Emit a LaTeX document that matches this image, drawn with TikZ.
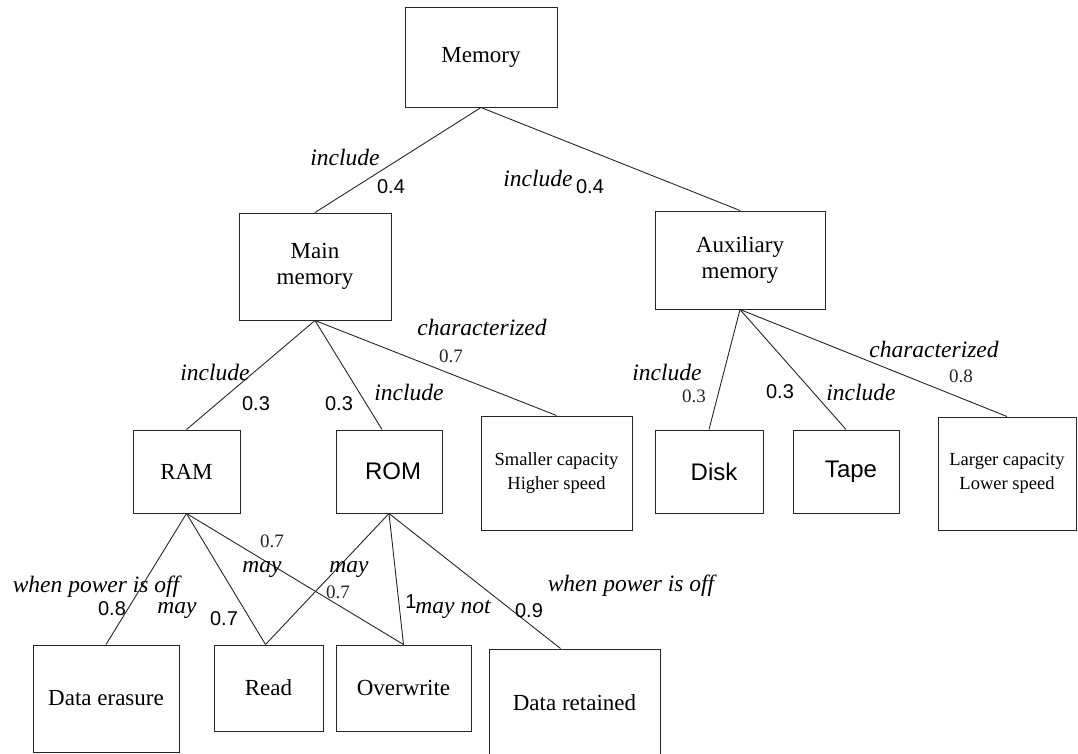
\documentclass[tikz,border=0pt]{standalone}
\usepackage{fontspec}
\setmainfont{Liberation Serif}
\setsansfont{Liberation Sans}
\begin{document}
\begin{tikzpicture}[x=1pt,y=-1pt,
  box/.style={draw=black!85, line width=1pt, inner sep=0pt, align=center,
    font=\fontsize{23}{26.5}\selectfont},
  smallbox/.style={box, font=\fontsize{18.5}{23.5}\selectfont},
  sansbox/.style={box, font=\sffamily\fontsize{24}{26}\selectfont},
  link/.style={draw=black!85, line width=0.9pt},
  rel/.style={inner sep=0pt, anchor=base, font=\itshape\fontsize{23.5}{26}\selectfont},
  wgt/.style={inner sep=0pt, anchor=base, font=\sffamily\fontsize{20}{22}\selectfont},
  sw/.style={inner sep=0pt, anchor=base, text=black!85, font=\fontsize{19}{22}\selectfont}]
\useasboundingbox (0,0) rectangle (1078,753);

% concept boxes
\node[box, minimum width=152, minimum height=100] (mem) at (481,57) {Memory};
\node[box, minimum width=152, minimum height=107] (main) at (315,266.5) {Main\\memory};
\node[box, minimum width=170, minimum height=98] (aux) at (740,260) {Auxiliary\\memory};
\node[box, minimum width=107, minimum height=83] (ram) at (186.5,471.5) {RAM};
\node[sansbox, minimum width=106, minimum height=83] (rom) at (389,471.5) {\hspace*{8pt}ROM};
\node[smallbox, minimum width=151, minimum height=114] (small) at (556.5,473) {Smaller capacity\\Higher speed};
\node[sansbox, minimum width=108, minimum height=83] (disk) at (709,471.5) {\hspace*{10pt}Disk};
\node[sansbox, minimum width=106, minimum height=83] (tape) at (846,471.5) {\hspace*{10pt}Tape};
\node[smallbox, minimum width=138, minimum height=113] (large) at (1007,473.5) {Larger capacity\\Lower speed};
\node[box, minimum width=146, minimum height=107] (erase) at (106,698.5) {Data erasure};
\node[box, minimum width=109, minimum height=86] (read) at (268.5,688) {Read};
\node[box, minimum width=135, minimum height=86] (over) at (403.5,688) {Overwrite};
\node[box, minimum width=171, minimum height=108] (keep) at (574.5,703) {Data retained};

% connectors
\draw[link] (mem.south) -- (main.north);
\draw[link] (mem.south) -- (aux.north);
\draw[link] (main.south) -- (ram.north);
\draw[link] (main.south) -- ([xshift=-7pt]rom.north);
\draw[link] (main.south) -- (small.north);
\draw[link] (aux.south) -- (disk.north);
\draw[link] (aux.south) -- (tape.north);
\draw[link] (aux.south) -- (large.north);
\draw[link] (ram.south) -- (erase.north);
\draw[link] (ram.south) -- ([xshift=-3pt]read.north);
\draw[link] (ram.south) -- (over.north);
\draw[link] (rom.south) -- ([xshift=-3pt]read.north);
\draw[link] (rom.south) -- (over.north);
\draw[link] (rom.south) -- ([xshift=-14pt]keep.north);

% relation labels and weights
\node[rel] (r1) at (345,165) {include};
\node[wgt] (w1) at (391,193) {0.4};
\node[rel] (r2) at (538,186) {include};
\node[wgt] (w2) at (590,193) {0.4};

\node[rel] (r3) at (215,380) {include};
\node[wgt] (w3) at (256,410) {0.3};
\node[wgt] (w4) at (339,410) {0.3};
\node[rel] (r4) at (409,400) {include};
\node[rel] (r5) at (482,335) {characterized};
\node[sw] (w5) at (451,362) {0.7};

\node[rel] (r6) at (667,380) {include};
\node[sw] (w6) at (694,402) {0.3};
\node[wgt] (w7) at (780,398) {0.3};
\node[rel] (r7) at (861,400) {include};
\node[rel] (r8) at (934,357) {characterized};
\node[sw] (w8) at (961,382) {0.8};

\node[sw] (w9) at (272,547) {0.7};
\node[rel] (r9) at (262,572) {may};
\node[rel] (r10) at (349,572) {may};
\node[sw] (w10) at (338,598) {0.7};

\node[rel] (r11) at (96,592) {when power is off};
\node[wgt] (w11) at (112,615) {0.8};
\node[rel] (r12) at (177,613) {may};
\node[wgt] (w12) at (224,625) {0.7};
\node[wgt] (w13) at (411,608) {1};
\node[rel] (r13) at (453,613) {may not};
\node[wgt] (w14) at (529,617) {0.9};
\node[rel] (r14) at (631,591) {when power is off};
\end{tikzpicture}
\end{document}
